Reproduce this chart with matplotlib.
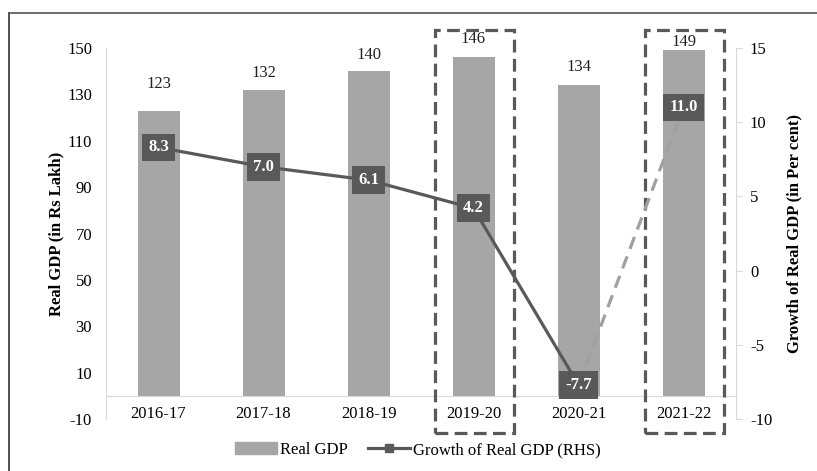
import matplotlib.pyplot as plt
from matplotlib.patches import Rectangle
from matplotlib.lines import Line2D

plt.rcParams['font.family'] = ['Liberation Serif', 'DejaVu Serif']
plt.rcParams['axes.unicode_minus'] = False

years = ['2016-17', '2017-18', '2018-19', '2019-20', '2020-21', '2021-22']
real_gdp = [123, 132, 140, 146, 134, 149]
growth = [8.3, 7.0, 6.1, 4.2, -7.7, 11.0]
highlight = [3, 5]

bar_col = '#a6a6a6'
line_col = '#595959'
axis_col = '#d9d9d9'
fs = 12

fig = plt.figure(figsize=(8.17, 4.71), dpi=100)
ax = fig.add_axes([106 / 817, 52 / 471, 630 / 817, 371 / 471])
x = list(range(len(years)))

ax.bar(x, real_gdp, width=0.4, color=bar_col, zorder=2)
ax.set_xlim(-0.5, 5.5)
ax.set_ylim(-10, 150)
ax.set_yticks(range(-10, 151, 20))
ax.tick_params(axis='y', length=0, pad=10, labelsize=fs)
ax.set_xticks(x)
ax.set_xticklabels(years)
ax.tick_params(axis='x', length=0, pad=7, labelsize=fs)
ax.spines['bottom'].set_position(('data', 0))
ax.spines['bottom'].set_color(axis_col)
ax.spines['left'].set_color(axis_col)
ax.spines['top'].set_visible(False)
ax.spines['right'].set_visible(False)
ax.set_ylabel('Real GDP (in Rs Lakh)', fontsize=fs, fontweight='bold', labelpad=2)

# labels above bars
offsets = [19, 12, 12, 13, 13, 6]
for xi, v, off in zip(x, real_gdp, offsets):
    ax.annotate(str(v), (xi, v), xytext=(0, off), textcoords='offset points',
                ha='center', va='center', fontsize=fs, color='#222222')

ax2 = ax.twinx()
ax2.set_ylim(-10, 15)
ax2.set_yticks(range(-10, 16, 5))
ax2.tick_params(axis='y', length=4, color=axis_col, pad=6, labelsize=fs)
for s in ['top', 'bottom', 'left']:
    ax2.spines[s].set_visible(False)
ax2.spines['right'].set_color(axis_col)
ax2.set_ylabel('Growth of Real GDP (in Per cent)', fontsize=fs, fontweight='bold', labelpad=10)

ax2.plot(x[:5], growth[:5], color=line_col, lw=2.3, marker='s', ms=6, zorder=3)
ax2.plot(x[4:], growth[4:], color='#a0a0a0', lw=2.3, ls=(0, (4, 2.5)), zorder=3)
for xi, g in zip(x, growth):
    ax2.text(xi, g, f'{g:.1f}', ha='center', va='center', color='white',
             fontsize=fs, fontweight='bold', zorder=4,
             bbox=dict(boxstyle='square,pad=0.35', fc=line_col, ec='none'))

# dashed highlight boxes
for i in highlight:
    ax.add_patch(Rectangle((i - 0.37, -16), 0.76, 173.8, fill=False, ec='#595959',
                           lw=2.3, ls=(0, (4, 2)), clip_on=False, zorder=5))

# legend
handles = [Rectangle((0, 0), 1, 1, color=bar_col),
           Line2D([], [], color=line_col, lw=2.3, marker='s', ms=6)]
fig.legend(handles, ['Real GDP', 'Growth of Real GDP (RHS)'], loc='center',
           bbox_to_anchor=(418 / 817, 1 - 450 / 471), ncol=2, frameon=False,
           fontsize=fs, handlelength=2.5, columnspacing=1.2, handletextpad=0.2)

# outer frame (top and left edges)
fig.add_artist(Line2D([9 / 817, 9 / 817], [0, 1 - 13 / 471], color='#333333', lw=1.2))
fig.add_artist(Line2D([9 / 817, 1], [1 - 13 / 471, 1 - 13 / 471], color='#555555', lw=1.2))

fig.savefig('out.png', dpi=100)
